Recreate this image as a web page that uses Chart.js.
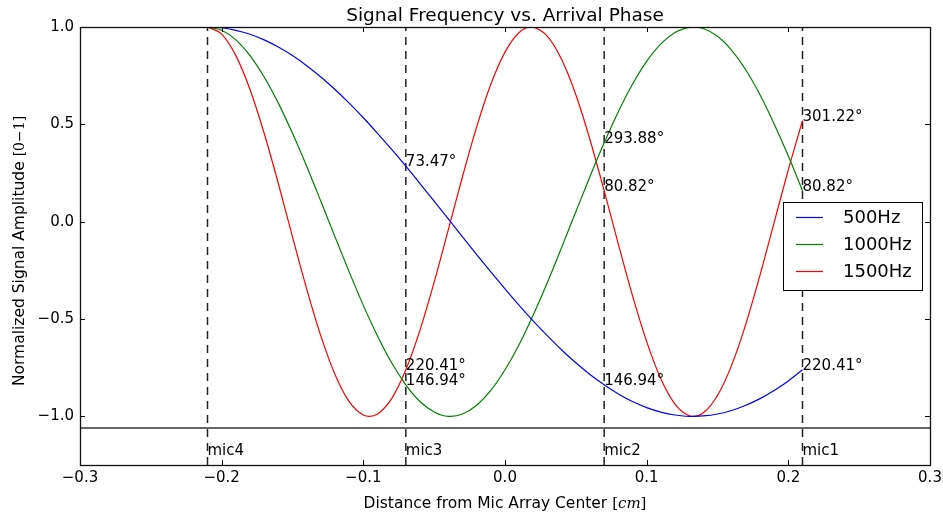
<!DOCTYPE html>
<html>
<head>
<meta charset="utf-8">
<script src="https://cdn.jsdelivr.net/npm/chart.js@4.4.0/dist/chart.umd.min.js"></script>
<style>
html, body { margin: 0; background: #fff; }
#wrap { width: 943px; height: 515px; }
</style>
</head>
<body>
<div id="wrap"><canvas id="myChart"></canvas></div>
<script>
// sample positions along the array (cm)
var xGrid = [-0.21, -0.20, -0.19, -0.18, -0.17, -0.16, -0.15, -0.14, -0.13, -0.12, -0.11,
    -0.10, -0.09, -0.08, -0.07, -0.06, -0.05, -0.04, -0.03, -0.02, -0.01, 0.00,
    0.01, 0.02, 0.03, 0.04, 0.05, 0.06, 0.07, 0.08, 0.09, 0.10, 0.11, 0.12,
    0.13, 0.14, 0.15, 0.16, 0.17, 0.18, 0.19, 0.20, 0.21];

var y500 = [1.000, 0.996, 0.983, 0.963, 0.934, 0.897, 0.853, 0.801, 0.743, 0.679,
    0.609, 0.534, 0.454, 0.371, 0.285, 0.196, 0.105, 0.014, -0.078, -0.169,
    -0.258, -0.345, -0.430, -0.511, -0.587, -0.659, -0.725, -0.785, -0.838, -0.885,
    -0.924, -0.955, -0.978, -0.993, -1.000, -0.998, -0.988, -0.970, -0.943, -0.909,
    -0.867, -0.818, -0.761];
var y1000 = [1.000, 0.983, 0.934, 0.853, 0.743, 0.609, 0.454, 0.285, 0.105, -0.078,
    -0.258, -0.430, -0.587, -0.725, -0.838, -0.924, -0.978, -1.000, -0.988, -0.943,
    -0.867, -0.761, -0.631, -0.478, -0.311, -0.132, 0.051, 0.232, 0.405, 0.565,
    0.706, 0.823, 0.913, 0.972, 0.998, 0.992, 0.952, 0.880, 0.779, 0.652,
    0.502, 0.337, 0.159];
var y1500 = [1.000, 0.963, 0.853, 0.679, 0.454, 0.196, -0.078, -0.345, -0.587, -0.785,
    -0.924, -0.993, -0.988, -0.909, -0.761, -0.557, -0.311, -0.041, 0.232, 0.487,
    0.706, 0.871, 0.972, 0.999, 0.952, 0.833, 0.652, 0.421, 0.159, -0.115,
    -0.380, -0.616, -0.807, -0.937, -0.997, -0.982, -0.893, -0.737, -0.526, -0.275,
    -0.004, 0.267, 0.519];

// peaks / troughs
var peak500X = [0.133], peak500Y = [-1.0];
var peak1000X = [-0.0385, 0.133], peak1000Y = [-1.0, 1.0];
var peak1500X = [-0.0957, 0.0187, 0.133], peak1500Y = [-1.0, 1.0, -1.0];

var seriesNames = ['500Hz', '1000Hz', '1500Hz'];
var seriesColors = ['#0000ff', '#008000', '#ff0000'];

// mics
var micX = [-0.21, -0.07, 0.07, 0.21];
var micNames = ['mic4', 'mic3', 'mic2', 'mic1'];
var micLabelY = -1.2;
var baseLineY = -1.06;

// phase annotations
var phaseX = [-0.07, -0.07, -0.07, 0.07, 0.07, 0.07, 0.21, 0.21, 0.21];
var phaseY = [0.2845, -0.838, -0.761, -0.838, 0.405, 0.159, -0.761, 0.159, 0.519];
var phaseText = ['73.47°', '146.94°', '220.41°', '146.94°', '293.88°', '80.82°', '220.41°', '80.82°', '301.22°'];

var xTicks = [-0.3, -0.2, -0.1, 0.0, 0.1, 0.2, 0.3];
var yTicks = [-1.0, -0.5, 0.0, 0.5, 1.0];

var SANS = "'DejaVu Sans', sans-serif";
var SERIF = "'DejaVu Serif', serif";

function series(ys, ex, ey) {
    var pts = xGrid.map(function (x, i) { return {x: x, y: ys[i]}; });
    ex.forEach(function (x, i) { pts.push({x: x, y: ey[i]}); });
    pts.sort(function (a, b) { return a.x - b.x; });
    return pts;
}

function fmt(v) {
    var s = Math.abs(v).toFixed(1);
    return (v < -1e-9 ? '\u2212' : '') + s;
}

var curves = [series(y500, peak500X, peak500Y), series(y1000, peak1000X, peak1000Y), series(y1500, peak1500X, peak1500Y)];

var datasets = curves.map(function (pts, i) {
    return {
        label: seriesNames[i],
        data: pts,
        borderColor: seriesColors[i],
        borderWidth: 1.2,
        pointRadius: 0,
        cubicInterpolationMode: 'monotone',
        fill: false,
        order: 1
    };
});

micX.forEach(function (m) {
    datasets.push({
        data: [{x: m, y: -1.25}, {x: m, y: 1.0}],
        borderColor: '#222',
        borderWidth: 1.5,
        borderDash: [8, 6],
        pointRadius: 0,
        order: 2
    });
});
datasets.push({
    data: [{x: -0.3, y: baseLineY}, {x: 0.3, y: baseLineY}],
    borderColor: '#333',
    borderWidth: 1.5,
    pointRadius: 0,
    order: 2
});

function drawParts(ctx, parts, x, y) {
    var total = 0;
    parts.forEach(function (p) { ctx.font = p.font; total += ctx.measureText(p.text).width; });
    var cx = x - total / 2;
    ctx.textAlign = 'left';
    parts.forEach(function (p) {
        ctx.font = p.font;
        ctx.fillText(p.text, cx, y);
        cx += ctx.measureText(p.text).width;
    });
}

var extras = {
    id: 'extras',
    afterDraw: function (chart) {
        var ctx = chart.ctx, a = chart.chartArea;
        var xs = chart.scales.x, ys = chart.scales.y;
        ctx.save();
        ctx.strokeStyle = '#000';
        ctx.lineWidth = 1;
        // inward ticks on all four sides
        ctx.beginPath();
        xTicks.forEach(function (t) {
            var px = Math.round(xs.getPixelForValue(t)) + 0.5;
            ctx.moveTo(px, a.bottom); ctx.lineTo(px, a.bottom - 5);
            ctx.moveTo(px, a.top); ctx.lineTo(px, a.top + 5);
        });
        yTicks.forEach(function (t) {
            var py = Math.round(ys.getPixelForValue(t)) + 0.5;
            ctx.moveTo(a.left, py); ctx.lineTo(a.left + 5, py);
            ctx.moveTo(a.right, py); ctx.lineTo(a.right - 5, py);
        });
        ctx.stroke();
        ctx.lineWidth = 1.3;
        ctx.strokeStyle = '#111';
        ctx.strokeRect(Math.round(a.left) + 0.5, Math.round(a.top) + 0.5, Math.round(a.right - a.left), Math.round(a.bottom - a.top));

        ctx.fillStyle = '#000';
        ctx.textBaseline = 'alphabetic';
        ctx.textAlign = 'left';
        ctx.font = '15px ' + SANS;
        // mic labels
        micX.forEach(function (m, i) {
            ctx.fillText(micNames[i], xs.getPixelForValue(m), ys.getPixelForValue(micLabelY));
        });
        // phase labels
        phaseX.forEach(function (px, i) {
            ctx.fillText(phaseText[i], xs.getPixelForValue(px), ys.getPixelForValue(phaseY[i]));
        });

        // title
        ctx.font = '18.5px ' + SANS;
        ctx.textAlign = 'center';
        ctx.fillText('Signal Frequency vs. Arrival Phase', (a.left + a.right) / 2, 21);

        // x axis label
        drawParts(ctx, [
            {text: 'Distance from Mic Array Center ', font: '15.5px ' + SANS},
            {text: '[', font: '15px ' + SERIF},
            {text: 'cm', font: 'italic 15px ' + SERIF},
            {text: ']', font: '15px ' + SERIF}
        ], (a.left + a.right) / 2, 508);

        // y axis label
        ctx.save();
        ctx.translate(24, 251);
        ctx.rotate(-Math.PI / 2);
        drawParts(ctx, [
            {text: 'Normalized Signal Amplitude ', font: '15.5px ' + SANS},
            {text: '[0\u22121]', font: '14px ' + SERIF}
        ], 0, 0);
        ctx.restore();

        // legend
        var lx = 783, ly = 202, lw = 139, lh = 88;
        ctx.fillStyle = '#fff';
        ctx.fillRect(lx, ly, lw, lh);
        ctx.strokeStyle = '#000';
        ctx.lineWidth = 1;
        ctx.strokeRect(lx + 0.5, ly + 0.5, lw, lh);
        ctx.font = '18px ' + SANS;
        ctx.textAlign = 'left';
        ctx.textBaseline = 'middle';
        seriesNames.forEach(function (n, i) {
            var ry = 217 + i * 27;
            ctx.strokeStyle = seriesColors[i];
            ctx.lineWidth = 1.2;
            ctx.beginPath();
            ctx.moveTo(796, ry + 0.5); ctx.lineTo(823, ry + 0.5);
            ctx.stroke();
            ctx.fillStyle = '#000';
            ctx.fillText(n, 843, ry + 1);
        });
        ctx.restore();
    }
};

Chart.defaults.font.family = SANS;
Chart.defaults.font.size = 15;
Chart.defaults.color = '#000';

new Chart(document.getElementById('myChart'), {
    type: 'line',
    data: { datasets: datasets },
    options: {
        animation: false,
        responsive: true,
        maintainAspectRatio: false,
        devicePixelRatio: 1,
        layout: { padding: { top: 27, right: 13, left: 0, bottom: 0 } },
        plugins: {
            legend: { display: false },
            title: { display: false },
            tooltip: { enabled: false }
        },
        scales: {
            x: {
                type: 'linear',
                min: -0.3,
                max: 0.3,
                grid: { display: false, drawTicks: false },
                border: { display: false },
                afterBuildTicks: function (s) { s.ticks = xTicks.map(function (v) { return {value: v}; }); },
                afterFit: function (s) { s.height = 50; s.paddingRight = 0; s.paddingLeft = 0; },
                ticks: { padding: 4, maxRotation: 0, callback: function (v) { return fmt(v); } }
            },
            y: {
                min: -1.25,
                max: 1.0,
                grid: { display: false, drawTicks: false },
                border: { display: false },
                afterBuildTicks: function (s) { s.ticks = yTicks.map(function (v) { return {value: v}; }); },
                afterFit: function (s) { s.width = 80; s.paddingTop = 0; s.paddingBottom = 0; },
                ticks: { padding: 6, callback: function (v) { return fmt(v); } }
            }
        }
    },
    plugins: [extras]
});
</script>
</body>
</html>
